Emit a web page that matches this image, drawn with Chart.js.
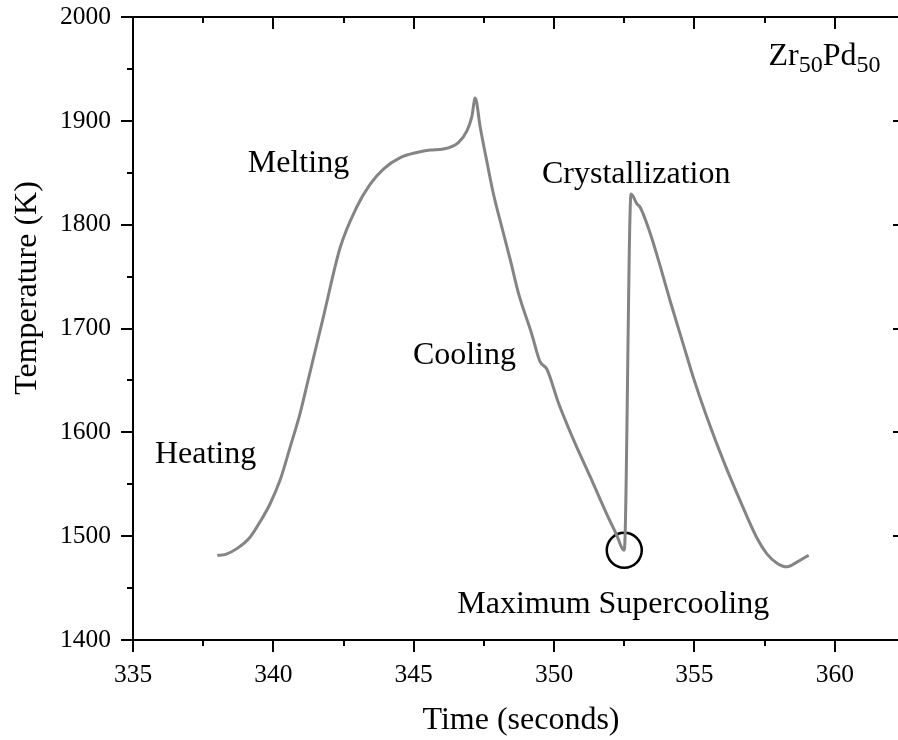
<!DOCTYPE html>
<html>
<head>
<meta charset="utf-8">
<title>Zr50Pd50 temperature profile</title>
<script src="https://cdn.jsdelivr.net/npm/chart.js@4/dist/chart.umd.min.js"></script>
<style>
  html, body { margin: 0; padding: 0; background: #fff; overflow: hidden; }
  #wrap { width: 920px; height: 740px; }
</style>
</head>
<body>
<div id="wrap"><canvas id="tempChart" width="920" height="740"></canvas></div>
<script>
// ---------- Data: pyrometer trace (time in s, temperature in K) ----------
const times = [
  338.0, 338.3, 338.7, 339.17, 339.53, 339.88, 340.24, 340.6, 340.95, 341.2,
  341.78, 342.38, 342.97, 343.45, 343.92, 344.52, 345.11, 345.58, 346.06, 346.59,
  346.89, 347.07, 347.19, 347.37, 347.6, 347.84, 348.14, 348.44, 348.73, 349.2,
  349.5, 349.74, 350.16, 350.69, 351.29, 351.88, 352.2, 352.5, 352.74, 352.95,
  353.07, 353.42, 353.78, 354.14, 354.61, 354.97, 355.45, 356.04, 356.63, 357.23,
  357.58, 357.94, 358.3, 358.65, 359.07
];
const temps = [
  1481.5, 1482.5, 1488, 1499, 1514, 1531, 1554, 1586, 1618, 1646,
  1711, 1778, 1817, 1839, 1853.5, 1864.5, 1869.5, 1871.8, 1872.8, 1879,
  1890, 1904, 1922, 1893.6, 1861.5, 1829.5, 1797.4, 1766, 1734, 1695,
  1668, 1661, 1628, 1593, 1557, 1521, 1503, 1486.5, 1829.5, 1820,
  1816.6, 1792, 1760, 1726, 1684, 1652, 1614, 1572, 1534, 1498,
  1483, 1474, 1470.5, 1475, 1481.7
];

// ---------- Axes ----------
const xTicks = [335, 340, 345, 350, 355, 360];
const xMinor = [337.5, 342.5, 347.5, 352.5, 357.5];
const yTicks = [1400, 1500, 1600, 1700, 1800, 1900, 2000];
const yMinor = [1450, 1550, 1650, 1750, 1850, 1950];
const xRange = [335, 362.5];
const yRange = [1400, 2000];

// ---------- Text placed on the plot (left edge / baseline, in data units) ----------
const notes = [
  { text: 'Heating', t: 335.78, T: 1570 },
  { text: 'Melting', t: 339.09, T: 1851 },
  { text: 'Cooling', t: 344.97, T: 1666 },
  { text: 'Crystallization', t: 349.57, T: 1840.5 },
  { text: 'Maximum Supercooling', t: 346.55, T: 1426 },
];
const alloy = { base: ['Zr', 'Pd'], sub: ['50', '50'], t: 357.64, T: 1953.5 };

const SERIF = '"Liberation Serif", "Times New Roman", serif';

// point just before the recalescence jump = maximum supercooling
let kMin = 0;
for (let i = 0; i < temps.length - 1; i++) {
  if (temps[i + 1] - temps[i] > temps[kMin + 1] - temps[kMin]) kMin = i;
}

// ---------- Frame, ticks and labels ----------
const frame = {
  id: 'frame',
  afterDraw(chart) {
    const { ctx, chartArea: a, scales: { x, y } } = chart;
    const seg = (x1, y1, x2, y2) => { ctx.beginPath(); ctx.moveTo(x1, y1); ctx.lineTo(x2, y2); ctx.stroke(); };
    ctx.save();
    ctx.strokeStyle = '#000';
    ctx.lineWidth = 2;
    ctx.strokeRect(a.left, a.top, a.right - a.left, a.bottom - a.top);

    // bottom/left ticks point out, top/right ticks point in
    xTicks.forEach((v) => { const px = Math.round(x.getPixelForValue(v));
      seg(px, a.bottom, px, a.bottom + 12); seg(px, a.top, px, a.top + 12); });
    xMinor.forEach((v) => { const px = Math.round(x.getPixelForValue(v));
      seg(px, a.bottom, px, a.bottom + 6); seg(px, a.top, px, a.top + 6); });
    yTicks.forEach((v) => { const py = Math.round(y.getPixelForValue(v));
      seg(a.left - 12, py, a.left, py); seg(a.right - 12, py, a.right, py); });
    yMinor.forEach((v) => { const py = Math.round(y.getPixelForValue(v));
      seg(a.left - 6, py, a.left, py); seg(a.right - 6, py, a.right, py); });

    ctx.fillStyle = '#000';
    ctx.font = `32px ${SERIF}`;
    ctx.textBaseline = 'alphabetic';
    ctx.textAlign = 'left';
    notes.forEach((n) => ctx.fillText(n.text, x.getPixelForValue(n.t), y.getPixelForValue(n.T)));

    // Zr50Pd50 with subscripts
    let cx = x.getPixelForValue(alloy.t);
    const by = y.getPixelForValue(alloy.T);
    alloy.base.forEach((b, i) => {
      ctx.font = `32px ${SERIF}`;
      ctx.fillText(b, cx, by);
      cx += ctx.measureText(b).width;
      ctx.font = `24px ${SERIF}`;
      ctx.fillText(alloy.sub[i], cx, by + 7);
      cx += ctx.measureText(alloy.sub[i]).width;
    });

    // axis titles
    ctx.font = `32px ${SERIF}`;
    ctx.textAlign = 'center';
    ctx.textBaseline = 'middle';
    ctx.fillText('Time (seconds)', (a.left + a.right) / 2 + 2, 721);
    ctx.translate(28, 288);
    ctx.rotate(-Math.PI / 2);
    ctx.fillText('Temperature (K)', 0, 0);
    ctx.restore();
  },
};

new Chart(document.getElementById('tempChart'), {
  type: 'scatter',
  data: {
    datasets: [
      {
        data: times.map((t, i) => ({ x: t, y: temps[i] })),
        showLine: true,
        borderColor: '#848484',
        borderWidth: 3,
        pointRadius: 0,
        cubicInterpolationMode: 'monotone',
      },
      {
        data: [{ x: times[kMin], y: temps[kMin] }],
        pointRadius: 17.5,
        pointBorderWidth: 2.5,
        pointBorderColor: '#000',
        pointBackgroundColor: 'rgba(0,0,0,0)',
      },
    ],
  },
  options: {
    responsive: false,
    animation: false,
    layout: { autoPadding: false, padding: { top: 17, right: 15, left: 0, bottom: 0 } },
    plugins: { legend: { display: false }, tooltip: { enabled: false } },
    scales: {
      x: {
        type: 'linear', min: xRange[0], max: xRange[1],
        afterBuildTicks: (s) => { s.ticks = xTicks.map((v) => ({ value: v })); },
        afterFit: (s) => { s.height = 100; s.paddingLeft = 0; s.paddingRight = 0; },
        grid: { display: true, drawOnChartArea: false, drawTicks: false, color: 'rgba(0,0,0,0)' },
        border: { display: false },
        ticks: { color: '#000', padding: 20, font: { family: SERIF, size: 25.5 }, maxRotation: 0,
                 callback: (v) => String(v) },
      },
      y: {
        type: 'linear', min: yRange[0], max: yRange[1],
        afterBuildTicks: (s) => { s.ticks = yTicks.map((v) => ({ value: v })); },
        afterFit: (s) => { s.width = 133; s.paddingTop = 0; s.paddingBottom = 0; },
        grid: { display: true, drawOnChartArea: false, drawTicks: false, color: 'rgba(0,0,0,0)' },
        border: { display: false },
        ticks: { color: '#000', padding: 22, font: { family: SERIF, size: 25.5 },
                 callback: (v) => String(v) },
      },
    },
  },
  plugins: [frame],
});
</script>
</body>
</html>
